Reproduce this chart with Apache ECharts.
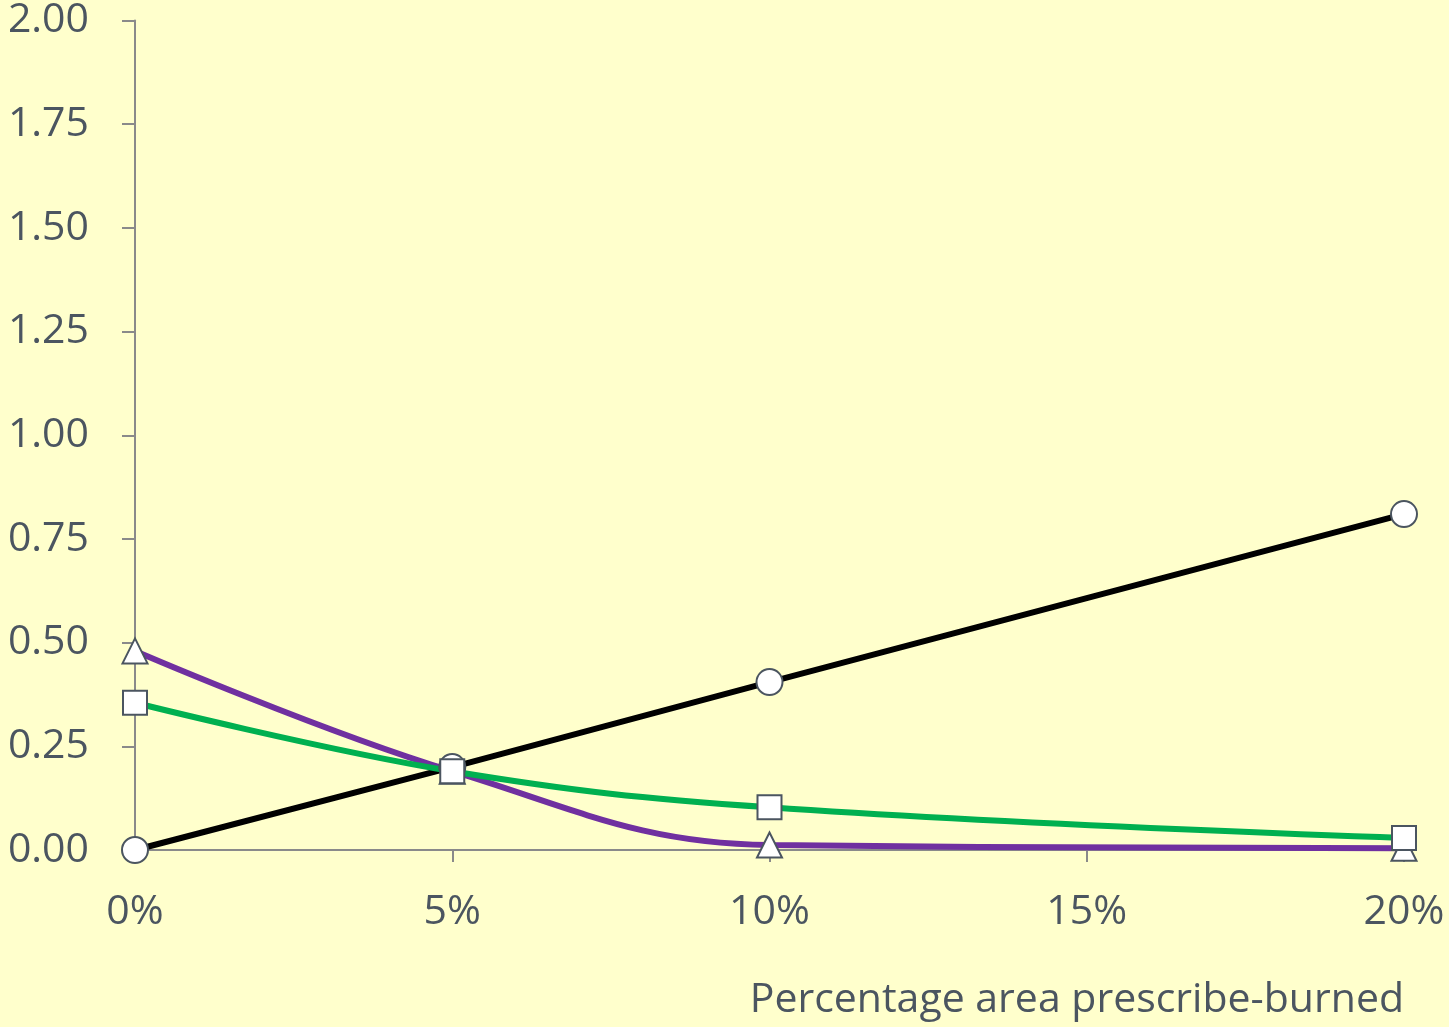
<!DOCTYPE html>
<html>
<head>
<meta charset="utf-8">
<title>Prescribed burning</title>
<script src="https://cdn.jsdelivr.net/npm/echarts@6/dist/echarts.min.js"></script>
<style>
  html, body { margin: 0; padding: 0; background: #FFFFCC; }
  #chart { width: 1449px; height: 1027px; }
</style>
</head>
<body>
<div id="chart"></div>
<script>
// Percentage of area prescribe-burned (x) and the three response series
const burnPct = [0, 5, 10, 20];
const circleSeries = [0.0, 0.20, 0.405, 0.81];
const squareSeries = [0.355, 0.19, 0.103, 0.029];
const triangleSeries = [0.48, 0.19, 0.012, 0.004];
const xTicks = [0, 5, 10, 15, 20];
const yTicks = [0, 0.25, 0.5, 0.75, 1.0, 1.25, 1.5, 1.75, 2.0];

const textColor = '#4B5560';
const axisColor = '#8A8A8A';
const markerBorder = '#4B5560';
const fontFamily = '"Open Sans", "Noto Sans", sans-serif';

function pairs(values) {
  return burnPct.map((x, i) => [x, values[i]]);
}

function lineSeries(name, values, color, symbol, size, smooth) {
  return {
    name: name,
    type: 'line',
    data: pairs(values),
    smooth: smooth,
    symbol: symbol,
    symbolSize: size,
    showAllSymbol: true,
    lineStyle: { color: color, width: 6 },
    itemStyle: { color: '#FFFFFF', borderColor: markerBorder, borderWidth: 2 },
    emphasis: { disabled: true }
  };
}

const chart = echarts.init(document.getElementById('chart'), null, { renderer: 'canvas' });
chart.setOption({
  backgroundColor: '#FFFFCC',
  animation: false,
  grid: { left: 135, right: 45, top: 16, bottom: 177, containLabel: false },
  xAxis: {
    type: 'value',
    min: xTicks[0],
    max: xTicks[xTicks.length - 1],
    interval: 5,
    name: 'Percentage area prescribe-burned',
    nameLocation: 'end',
    nameGap: 0,
    nameTextStyle: {
      color: textColor, fontSize: 41, fontFamily: fontFamily,
      align: 'right', verticalAlign: 'top', padding: [130, 0, 0, 0]
    },
    axisLine: { lineStyle: { color: axisColor, width: 2 } },
    axisTick: { show: true, inside: false, length: 12, lineStyle: { color: axisColor, width: 2 } },
    axisLabel: {
      color: textColor, fontSize: 41, fontFamily: fontFamily, margin: 42,
      formatter: v => v + '%'
    },
    splitLine: { show: false }
  },
  yAxis: {
    type: 'value',
    min: yTicks[0],
    max: yTicks[yTicks.length - 1],
    interval: 0.25,
    axisLine: { show: true, lineStyle: { color: axisColor, width: 2 } },
    axisTick: { show: true, inside: false, length: 13, lineStyle: { color: axisColor, width: 2 } },
    axisLabel: {
      color: textColor, fontSize: 41, fontFamily: fontFamily, margin: 46,
      formatter: v => v.toFixed(2)
    },
    splitLine: { show: false }
  },
  series: [
    lineSeries('triangle', triangleSeries, '#7030A0', 'triangle', 25, 0.4),
    lineSeries('circle', circleSeries, '#000000', 'circle', 26, false),
    lineSeries('square', squareSeries, '#00B050', 'rect', 24, 0.4)
  ]
});
</script>
</body>
</html>
